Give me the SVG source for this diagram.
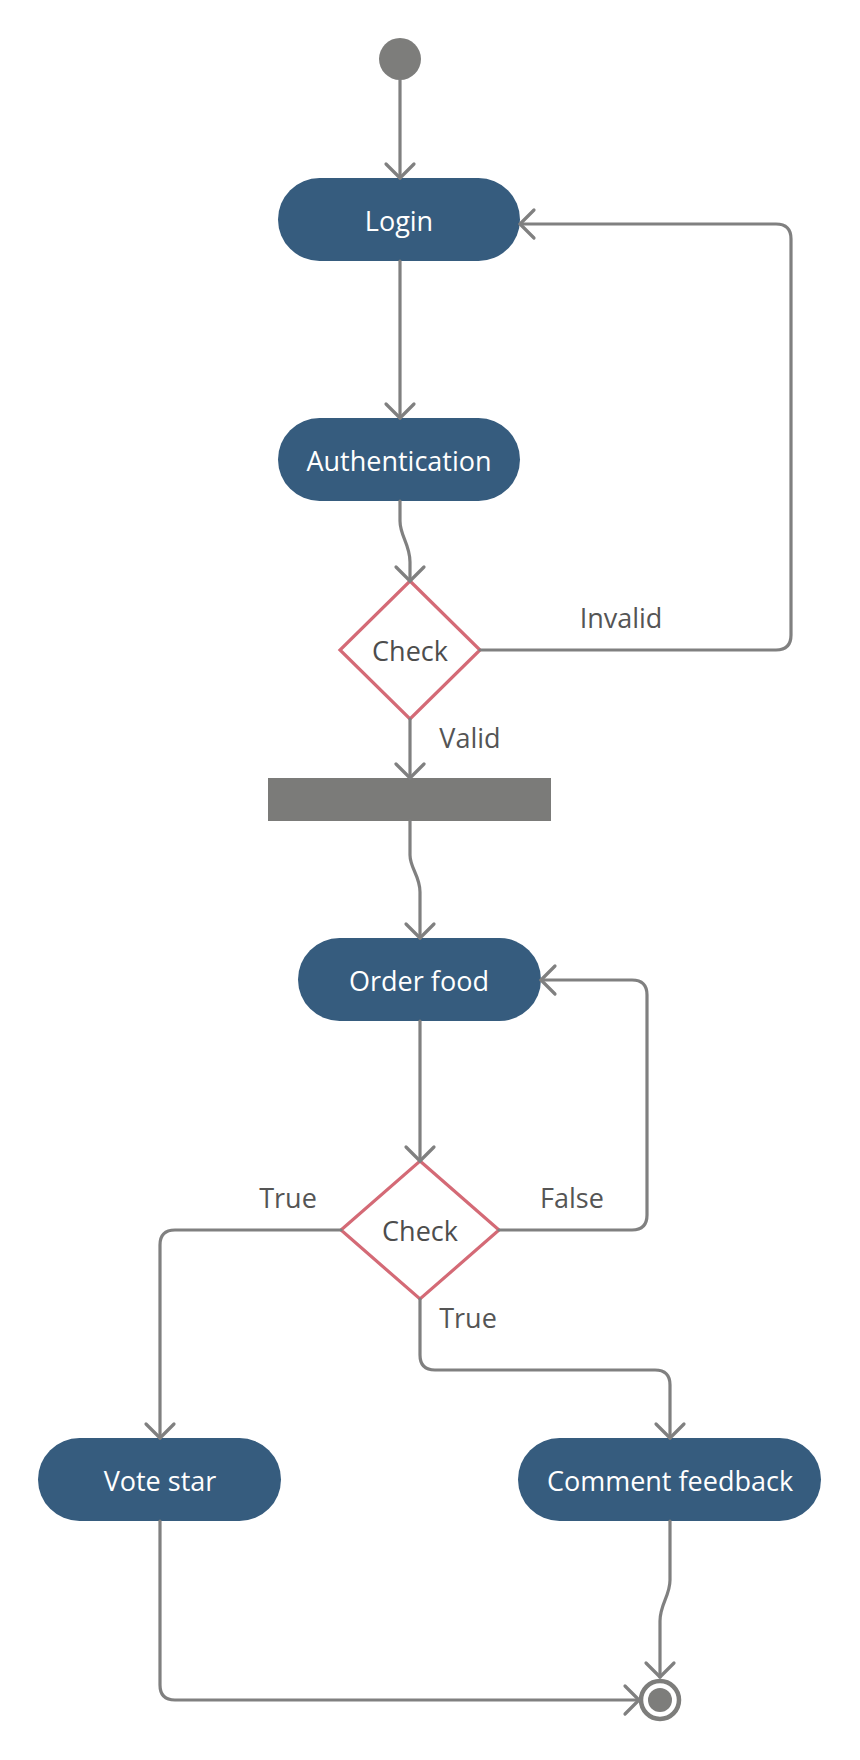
<svg xmlns="http://www.w3.org/2000/svg" width="860" height="1760" viewBox="0 0 860 1760">
<defs>
<marker id="arr" markerUnits="userSpaceOnUse" markerWidth="40" markerHeight="40" viewBox="-20 -20 40 40" refX="0" refY="0" orient="auto">
<path d="M-14,-14 L0,0 L-14,14" fill="none" stroke="#808080" stroke-width="3.2" stroke-linecap="round" stroke-linejoin="round"/>
</marker>
</defs>
<style>
.act{fill:#365c7e}
.at{fill:#ffffff;font-family:"Open Sans","Noto Sans","DejaVu Sans",sans-serif;font-size:27px;text-anchor:middle;dominant-baseline:central}
.dec{fill:#ffffff;stroke:#d46a76;stroke-width:3.2}
.dt{fill:#4d4d4d;font-family:"Open Sans","Noto Sans","DejaVu Sans",sans-serif;font-size:27px;text-anchor:middle;dominant-baseline:central}
.lbl{fill:#555555;font-family:"Open Sans","Noto Sans","DejaVu Sans",sans-serif;font-size:27px;text-anchor:middle;dominant-baseline:central}
.c{fill:none;stroke:#808080;stroke-width:3.2;stroke-linecap:round;stroke-linejoin:round}
</style>
<g id="start"><circle cx="400" cy="59" r="21" fill="#7d7d7b"/></g>
<g id="login"><rect class="act" x="278" y="178" width="242" height="83" rx="41.5"/><text class="at" x="399" y="220">Login</text></g>
<g id="auth"><rect class="act" x="278" y="418" width="242" height="83" rx="41.5"/><text class="at" x="399" y="460">Authentication</text></g>
<g id="check1"><polygon class="dec" points="410,581 480,650 410,719 340,650"/><text class="dt" x="410" y="650">Check</text></g>
<g id="fork"><rect x="268" y="778" width="283" height="43" fill="#7b7b79"/></g>
<g id="order"><rect class="act" x="298" y="938" width="243" height="83" rx="41.5"/><text class="at" x="419" y="980">Order food</text></g>
<g id="check2"><polygon class="dec" points="420,1161 499,1230 420,1299 341,1230"/><text class="dt" x="420" y="1230">Check</text></g>
<g id="vote"><rect class="act" x="38" y="1438" width="243" height="83" rx="41.5"/><text class="at" x="160" y="1480">Vote star</text></g>
<g id="comment"><rect class="act" x="518" y="1438" width="303" height="83" rx="41.5"/><text class="at" x="670" y="1480">Comment feedback</text></g>
<g id="end"><circle cx="660" cy="1700" r="19" fill="#ffffff" stroke="#7d7d7b" stroke-width="4.5"/><circle cx="660" cy="1700" r="12" fill="#7d7d7b"/></g>
<g id="connectors">
<path class="c" d="M400,80 L400,178" marker-end="url(#arr)"/>
<path class="c" d="M400,261 L400,418" marker-end="url(#arr)"/>
<path class="c" d="M400,501 L400,521 C400,536 410,544 410,562 L410,581" marker-end="url(#arr)"/>
<path class="c" d="M480,650 L776,650 Q791,650 791,635 L791,239 Q791,224 776,224 L520,224" marker-end="url(#arr)"/>
<path class="c" d="M410,719 L410,778" marker-end="url(#arr)"/>
<path class="c" d="M410,821 L410,855 C410,868 420,876 420,892 L420,938" marker-end="url(#arr)"/>
<path class="c" d="M420,1021 L420,1161" marker-end="url(#arr)"/>
<path class="c" d="M499,1230 L632,1230 Q647,1230 647,1215 L647,995 Q647,980 632,980 L541,980" marker-end="url(#arr)"/>
<path class="c" d="M341,1230 L175,1230 Q160,1230 160,1245 L160,1438" marker-end="url(#arr)"/>
<path class="c" d="M420,1299 L420,1355 Q420,1370 435,1370 L655,1370 Q670,1370 670,1385 L670,1438" marker-end="url(#arr)"/>
<path class="c" d="M670,1521 L670,1580 C670,1596 660,1604 660,1621 L660,1677" marker-end="url(#arr)"/>
<path class="c" d="M160,1521 L160,1685 Q160,1700 175,1700 L639,1700" marker-end="url(#arr)"/>
<text class="lbl" x="621" y="617">Invalid</text>
<text class="lbl" x="470" y="737">Valid</text>
<text class="lbl" x="288" y="1197">True</text>
<text class="lbl" x="572" y="1197">False</text>
<text class="lbl" x="468" y="1317">True</text>
</g>
</svg>
